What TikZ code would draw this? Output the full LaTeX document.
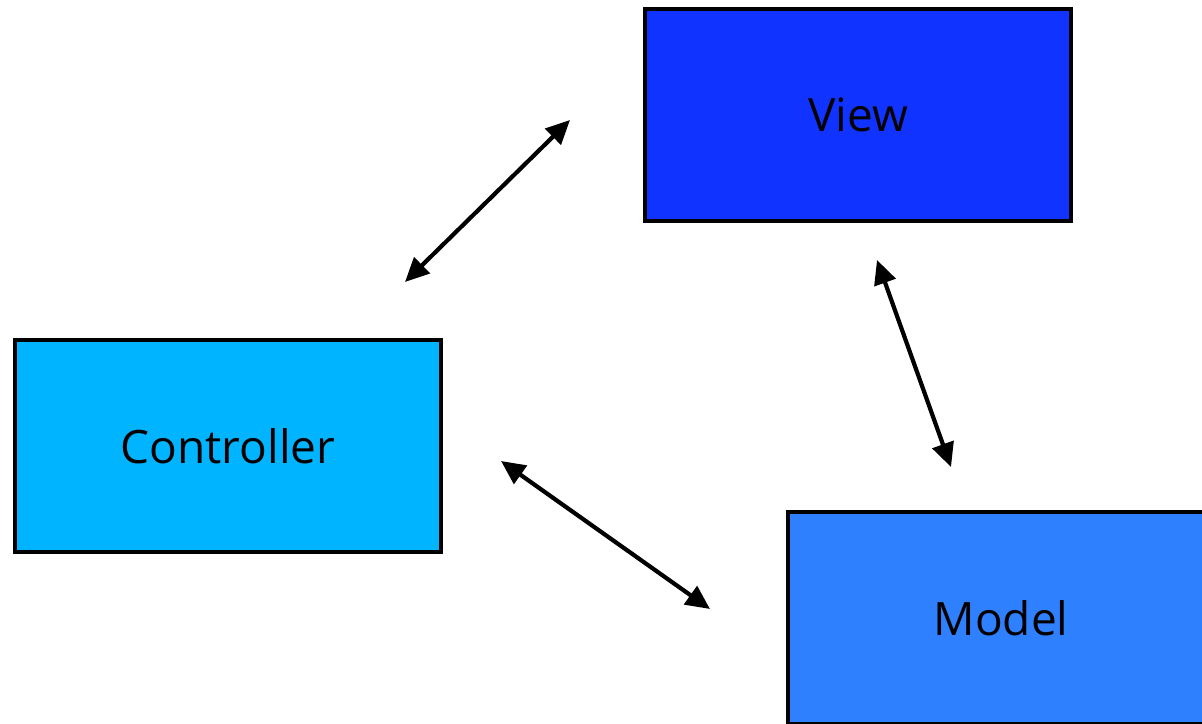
\documentclass[tikz,border=0pt]{standalone}
\usepackage{fontspec}
\setmainfont{Open Sans}
\usetikzlibrary{arrows.meta}
\definecolor{viewblue}{HTML}{1133FF}
\definecolor{ctrlblue}{HTML}{00B4FF}
\definecolor{modelblue}{HTML}{2F80FF}
\tikzset{
  box/.style={draw=black, line width=4pt, minimum width=426pt, minimum height=212pt, inner sep=0pt, font=\fontsize{46}{54}\selectfont, text=black},
  biarrow/.style={line width=4.2pt, {Triangle[length=24pt,width=22pt]}-{Triangle[length=24pt,width=22pt]}}
}
\begin{document}
\begin{tikzpicture}[x=1pt,y=1pt]
\clip (0,0) rectangle (1202,723);
\fill[white] (0,0) rectangle (1202,723);
\node[box, fill=viewblue] (view) at (858,608) {View};
\node[box, fill=ctrlblue] (controller) at (228,277) {Controller};
\node[box, fill=modelblue, anchor=north west] (model) at (786,213) {Model};
\coordinate (a1) at (405,441);
\coordinate (b1) at (570,603);
\coordinate (a2) at (877,463);
\coordinate (b2) at (951,256);
\coordinate (a3) at (501,262);
\coordinate (b3) at (710,114);
\draw[biarrow] (a1) -- (b1);
\draw[biarrow] (a2) -- (b2);
\draw[biarrow] (a3) -- (b3);
\end{tikzpicture}
\end{document}
